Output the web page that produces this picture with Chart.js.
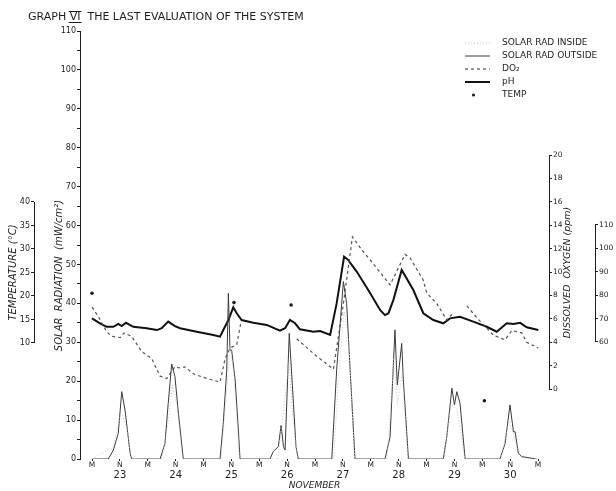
<!DOCTYPE html>
<html>
<head>
<meta charset="utf-8">
<script src="https://cdn.jsdelivr.net/npm/chart.js@4.4.1/dist/chart.umd.min.js"></script>
<style>
  body { margin: 0; background: #fff; }
  canvas { display: block; }
</style>
</head>
<body>
<canvas id="chart" width="616" height="491"></canvas>
<script>
// time is in hours counted from midnight, 23 November
const dayLabels = ['23', '24', '25', '26', '27', '28', '29', '30'];
const noonHours = [12, 36, 60, 84, 108, 132, 156, 180];
const clockHours = [0, 12, 24, 36, 48, 60, 72, 84, 96, 108, 120, 132, 144, 156, 168, 180, 192];

const solarTicks = [0, 5, 10, 15, 20, 25, 30, 35, 40, 45, 50, 55, 60, 65, 70, 75, 80, 85, 90, 95, 100, 105, 110];
const tempTicks = [10, 15, 20, 25, 30, 35, 40];
const doTicks = [0, 2, 4, 6, 8, 10, 12, 14, 16, 18, 20];
const phTicks = [60, 70, 80, 90, 100, 110];

const solarOutHours = [0, 7, 9.2, 11.3, 12.8, 14.2, 16.4, 17.1, 29.3, 31.4, 32.8, 34.3, 35.7, 37.2, 39.3,
  55.1, 56.5, 58, 58.7, 59.4, 60.1, 61.6, 63, 63.7, 76.6, 78, 80.2, 81.4, 82.4, 83.1, 84.9, 86.7, 87.8, 88.8,
  103.2, 105.3, 108.2, 109.6, 111.1, 113.2, 126.1, 128.3, 130.4, 131.4, 133.3, 134, 136.2,
  151.2, 152.7, 154.9, 156, 157, 158.4, 160.6, 175.6, 177.8, 179.9, 181.4, 182.1, 183.5, 185, 191.4];
const solarOutValues = [0, 0, 2.3, 6.6, 17.3, 12.6, 1.5, 0, 0, 4, 14.3, 24.4, 21.2, 11.7, 0,
  0, 9.2, 22.9, 42.6, 28, 28, 20.3, 7.5, 0, 0, 1.9, 3.2, 8.7, 3.2, 2.3, 32.3, 14.3, 3.2, 0,
  0, 22.9, 45.6, 40, 22.9, 0, 0, 5.7, 33.2, 19, 29.7, 20.3, 0,
  0, 5.7, 18.2, 13.9, 17.3, 14.3, 0, 0, 4, 13.9, 7, 7, 1.5, 0.6, 0];

const solarInHours = [0, 9, 12.5, 15, 17, 30, 33, 34.5, 36.5, 39, 55.5, 58, 59.5, 61, 63.5, 80, 84.8, 86.5, 88.5,
  104, 106, 108.5, 110.5, 113, 127, 130, 131.5, 133.5, 136, 151.5, 154.5, 157, 160.5, 176, 179.5, 182, 185, 192];
const solarInValues = [0, 3, 12, 8, 0, 0, 10, 19, 14, 0, 0, 18, 29, 22, 0, 0, 25, 10, 0,
  0, 20, 38, 30, 0, 0, 26, 14, 22, 0, 0, 14, 13, 0, 0, 10, 5, 0, 0];

const doHours = [0, 2.7, 6.3, 8.5, 12.1, 13.8, 17.1, 21.4, 25.7, 29.3, 32.2, 35.7, 37.9, 40, 43.6, 49.4, 55.1,
  57.3, 59.4, 62.3, 64, 76, 88.1, 93.8, 96.7, 103.9, 105.3, 108.2, 112.1, 116.1, 121.1, 128.3, 134.7, 136.9,
  142.6, 144.1, 148.4, 152.7, 155.5, 158, 161.3, 167, 172.8, 177.8, 180.7, 185, 187.1, 192.1];
const doValues = [7, 6.2, 4.9, 4.5, 4.4, 4.8, 4.5, 3.2, 2.6, 1.1, 0.9, 1.9, 1.8, 1.9, 1.3, 0.9, 0.6,
  2.6, 3.5, 3.8, 5.6, null, 4.3, 3.3, 2.8, 1.7, 3.5, 7.3, 13, 11.9, 10.7, 8.9, 11.5, 11.2,
  9.3, 8.2, 7.3, 5.9, 6.5, null, 7.1, 5.8, 4.6, 4.2, 5, 4.8, 4, 3.5];

const phHours = [0, 3.4, 6.3, 9.2, 11.3, 12.8, 14.6, 17.8, 23.5, 27.9, 30, 32.8, 35.7, 37.9, 45.1, 52.2, 55.1,
  56.5, 58.7, 60.8, 62.3, 64.4, 69.4, 75.2, 80.9, 83.1, 85.2, 87.4, 89.5, 95.3, 98.2, 102.5, 105.3, 108.5,
  110.3, 114, 118.9, 124, 126.1, 127.6, 129.7, 133.3, 138.3, 142.6, 146.9, 151.2, 154.1, 158.4, 164.1,
  169.9, 174.2, 178.5, 181.4, 184.3, 187.1, 192.1];
const phValues = [70.1, 68, 66.5, 66.5, 67.7, 66.8, 68.2, 66.5, 65.9, 65.1, 65.9, 68.7, 66.8, 65.9, 64.4, 63, 62.3,
  65.1, 69.4, 74.8, 72.3, 69.4, 68.2, 67.3, 64.8, 65.9, 69.4, 68, 65.4, 64.4, 64.7, 63, 76.5, 96.5,
  95, 90, 82.2, 73.7, 71.5, 72.3, 77.9, 90.8, 82.2, 72.3, 69.4, 68, 70.1, 70.8, 68.7,
  66.5, 64.4, 68, 67.7, 68.2, 66.3, 65.1];

const tempHours = [0, 61.1, 85.7, 168.9];
const tempValues = [20.6, 18.6, 18.1, -2.3];

const ink = '#1e1e1e';
const font = 'DejaVu Sans';
const pts = (xs, ys) => xs.map((x, i) => ({ x: x, y: ys[i] }));
const fixTicks = list => scale => { scale.ticks = list.map(v => ({ value: v })); };

function vText(ctx, text, x, y, size) {
  ctx.save();
  ctx.translate(x, y);
  ctx.rotate(-Math.PI / 2);
  ctx.font = 'italic ' + size + 'px ' + font;
  ctx.textAlign = 'center';
  ctx.textBaseline = 'middle';
  ctx.fillText(text, 0, 0);
  ctx.restore();
}

const paperLook = {
  id: 'paperLook',
  afterDraw(chart) {
    const ctx = chart.ctx;
    const s = chart.scales;
    ctx.save();
    ctx.strokeStyle = ink;
    ctx.fillStyle = ink;
    ctx.lineWidth = 1;

    // short axes that only cover their own range
    [[s.temp, s.temp.right, 10, 40], [s.oxy, s.oxy.left, 0, 20], [s.ph, s.ph.left, 60, 110]].forEach(a => {
      const x = Math.round(a[1]) + 0.5;
      ctx.beginPath();
      ctx.moveTo(x, a[0].getPixelForValue(a[2]));
      ctx.lineTo(x, a[0].getPixelForValue(a[3]));
      ctx.stroke();
    });

    // axis titles
    const midY = (s.temp.getPixelForValue(10) + s.temp.getPixelForValue(40)) / 2;
    vText(ctx, 'TEMPERATURE (°C)', s.temp.left + 13, midY, 10);
    vText(ctx, 'SOLAR  RADIATION  (mW/cm²)', s.y.left + 25, midY + 3, 10);
    vText(ctx, 'DISSOLVED  OXYGEN (ppm)', s.oxy.left + 19, midY, 9.5);

    // title
    ctx.font = '11px ' + font;
    ctx.textBaseline = 'middle';
    ctx.textAlign = 'left';
    let tx = 28;
    const ty = 17;
    ctx.fillText('GRAPH ', tx, ty);
    tx += ctx.measureText('GRAPH ').width;
    const w = ctx.measureText('VI').width;
    ctx.fillText('VI', tx, ty);
    ctx.beginPath();
    ctx.moveTo(tx - 1, ty - 5.5); ctx.lineTo(tx + w + 1, ty - 5.5);
    ctx.moveTo(tx - 1, ty + 5.5); ctx.lineTo(tx + w + 1, ty + 5.5);
    ctx.stroke();
    ctx.fillText('  THE LAST EVALUATION OF THE SYSTEM', tx + w, ty);

    // legend
    ctx.font = '9px ' + font;
    chart.data.datasets.forEach((ds, i) => {
      const y = chart.chartArea.top + 12 + i * 13;
      const x0 = 465, x1 = 490;
      if (ds.showLine === false) {
        ctx.beginPath();
        ctx.arc((x0 + x1) / 2 - 4, y, 1.6, 0, Math.PI * 2);
        ctx.fill();
      } else {
        ctx.save();
        ctx.strokeStyle = ds.borderColor;
        ctx.lineWidth = ds.borderWidth;
        ctx.setLineDash(ds.borderDash || []);
        ctx.beginPath();
        ctx.moveTo(x0, y); ctx.lineTo(x1, y);
        ctx.stroke();
        ctx.restore();
      }
      ctx.fillText(ds.label, 502, y);
    });
    ctx.restore();
  }
};

new Chart(document.getElementById('chart'), {
  type: 'line',
  data: {
    datasets: [{
      label: 'SOLAR RAD INSIDE',
      data: pts(solarInHours, solarInValues),
      yAxisID: 'y',
      borderColor: '#c4c4c4',
      borderWidth: 1,
      borderDash: [1, 2]
    }, {
      label: 'SOLAR RAD OUTSIDE',
      data: pts(solarOutHours, solarOutValues),
      yAxisID: 'y',
      borderColor: '#3a3a3a',
      borderWidth: 1
    }, {
      label: 'DO₂',
      data: pts(doHours, doValues),
      yAxisID: 'oxy',
      borderColor: '#555',
      borderWidth: 1.2,
      borderDash: [3, 3],
      spanGaps: false
    }, {
      label: 'pH',
      data: pts(phHours, phValues),
      yAxisID: 'ph',
      borderColor: '#111',
      borderWidth: 2
    }, {
      label: 'TEMP',
      data: pts(tempHours, tempValues),
      yAxisID: 'temp',
      showLine: false,
      pointRadius: 1.8,
      pointBackgroundColor: ink,
      pointBorderWidth: 0
    }]
  },
  options: {
    responsive: false,
    animation: false,
    layout: { padding: { top: 31, left: 0, right: 0, bottom: 0 } },
    elements: {
      line: { tension: 0 },
      point: { radius: 0 }
    },
    plugins: {
      legend: { display: false },
      tooltip: { enabled: false }
    },
    scales: {
      x: {
        type: 'linear',
        position: 'bottom',
        min: -5.17,
        max: 196.7,
        weight: 0,
        afterBuildTicks: fixTicks(clockHours),
        afterFit: scale => { scale.height = 10; },
        border: { display: false },
        grid: { drawOnChartArea: false, tickLength: 2, color: ink },
        ticks: {
          autoSkip: false,
          maxRotation: 0,
          padding: 0,
          color: ink,
          font: { family: font, size: 7.5 },
          callback: v => (v % 24 === 0 ? 'M' : 'N')
        }
      },
      x2: {
        type: 'linear',
        position: 'bottom',
        min: -5.17,
        max: 196.7,
        weight: 1,
        afterBuildTicks: fixTicks(noonHours),
        afterFit: scale => { scale.height = 22; },
        border: { display: false },
        grid: { display: false, drawTicks: false },
        ticks: {
          autoSkip: false,
          maxRotation: 0,
          padding: 0,
          color: ink,
          font: { family: font, size: 10 },
          callback: (v, i) => dayLabels[i]
        },
        title: {
          display: true,
          text: 'NOVEMBER',
          color: ink,
          padding: 0,
          font: { family: font, size: 9, style: 'italic' }
        }
      },
      y: {
        position: 'left',
        min: 0,
        max: 110,
        weight: 0,
        afterBuildTicks: fixTicks(solarTicks),
        afterFit: scale => { scale.width = 46; },
        border: { color: ink },
        grid: { drawOnChartArea: false, tickLength: 3, color: ink },
        ticks: {
          autoSkip: false,
          padding: 1,
          color: ink,
          font: { family: font, size: 8 },
          callback: v => (v % 10 === 0 ? v : '')
        }
      },
      temp: {
        position: 'left',
        min: -14.68,
        max: 76.38,
        weight: 1,
        afterBuildTicks: fixTicks(tempTicks),
        afterFit: scale => { scale.width = 34; },
        border: { display: false },
        grid: { drawOnChartArea: false, tickLength: 3, color: ink },
        ticks: { autoSkip: false, padding: 1, color: ink, font: { family: font, size: 8 } }
      },
      oxy: {
        position: 'right',
        min: -5.98,
        max: 30.6,
        weight: 0,
        afterBuildTicks: fixTicks(doTicks),
        afterFit: scale => { scale.width = 46; },
        border: { display: false },
        grid: { drawOnChartArea: false, tickLength: 3, color: ink },
        ticks: { autoSkip: false, padding: 1, color: ink, font: { family: font, size: 7.5 } }
      },
      ph: {
        position: 'right',
        min: 10,
        max: 192.9,
        weight: 1,
        afterBuildTicks: fixTicks(phTicks),
        afterFit: scale => { scale.width = 21; },
        border: { display: false },
        grid: { drawOnChartArea: false, tickLength: 3, color: ink },
        ticks: { autoSkip: false, padding: 1, color: ink, font: { family: font, size: 7.5 } }
      }
    }
  },
  plugins: [paperLook]
});
</script>
</body>
</html>
